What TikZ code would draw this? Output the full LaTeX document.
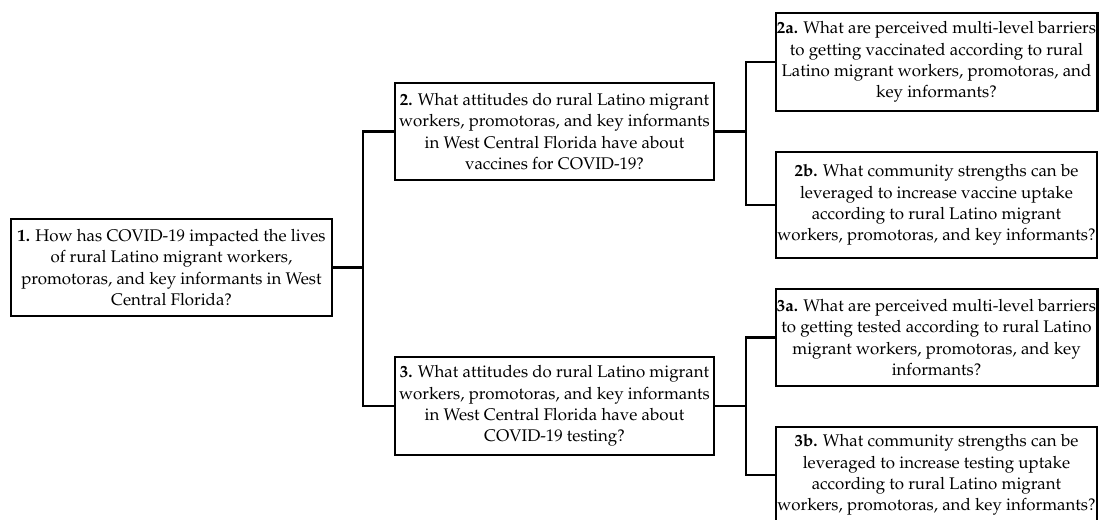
\documentclass[tikz,border=0pt]{standalone}
\usepackage[T1]{fontenc}
\usepackage{mathpazo}
\tikzset{
  qbox/.style={draw, line width=1.5pt, align=center, inner sep=1pt,
    font=\fontsize{12}{15.1}\selectfont},
  link/.style={line width=1.5pt}
}
\begin{document}
\begin{tikzpicture}
\useasboundingbox (0,0) rectangle (27.475,12.975);

% Main question
\node[qbox, minimum width=8.025cm, minimum height=2.425cm] (q1) at (4.2875, 6.2875)
  {\textbf{1.} How has COVID-19 impacted the lives\\ of rural Latino migrant workers,\\ promotoras, and key informants in West\\ Central Florida?};

% Second level
\node[qbox, minimum width=7.975cm, minimum height=2.425cm] (q2) at (13.8625, 9.6875)
  {\textbf{2.} What attitudes do rural Latino migrant\\ workers, promotoras, and key informants\\ in West Central Florida have about\\ vaccines for COVID-19?};
\node[qbox, minimum width=7.975cm, minimum height=2.45cm] (q3) at (13.8625, 2.825)
  {\textbf{3.} What attitudes do rural Latino migrant\\ workers, promotoras, and key informants\\ in West Central Florida have about\\ COVID-19 testing?};

% Third level
\node[qbox, minimum width=7.975cm, minimum height=2.45cm] (q2a) at (23.4125, 11.425)
  {\textbf{2a.} What are perceived multi-level barriers\\ to getting vaccinated according to rural\\ Latino migrant workers, promotoras, and\\ key informants?};
\node[qbox, minimum width=7.975cm, minimum height=2.65cm] (q2b) at (23.4125, 7.85)
  {\textbf{2b.} What community strengths can be\\ leveraged to increase vaccine uptake\\ according to rural Latino migrant\\ workers, promotoras, and key informants?};
\node[qbox, minimum width=7.975cm, minimum height=2.425cm] (q3a) at (23.4125, 4.5375)
  {\textbf{3a.} What are perceived multi-level barriers\\ to getting tested according to rural Latino\\ migrant workers, promotoras, and key\\ informants?};
\node[qbox, minimum width=7.975cm, minimum height=2.4cm] (q3b) at (23.4125, 1.1)
  {\textbf{3b.} What community strengths can be\\ leveraged to increase testing uptake\\ according to rural Latino migrant\\ workers, promotoras, and key informants?};

% Junctions
\coordinate (j1) at (9.075, 6.2875);
\coordinate (j2) at (18.65, 9.6875);
\coordinate (j3) at (18.65, 2.825);

\draw[link] (q1.east) -- (j1);
\draw[link] (q2.west) -| (j1) |- (q3.west);
\draw[link] (q2.east) -- (j2);
\draw[link] (q2a.west) -| (j2) |- (q2b.west);
\draw[link] (q3.east) -- (j3);
\draw[link] (q3a.west) -| (j3) |- (q3b.west);
\end{tikzpicture}
\end{document}
